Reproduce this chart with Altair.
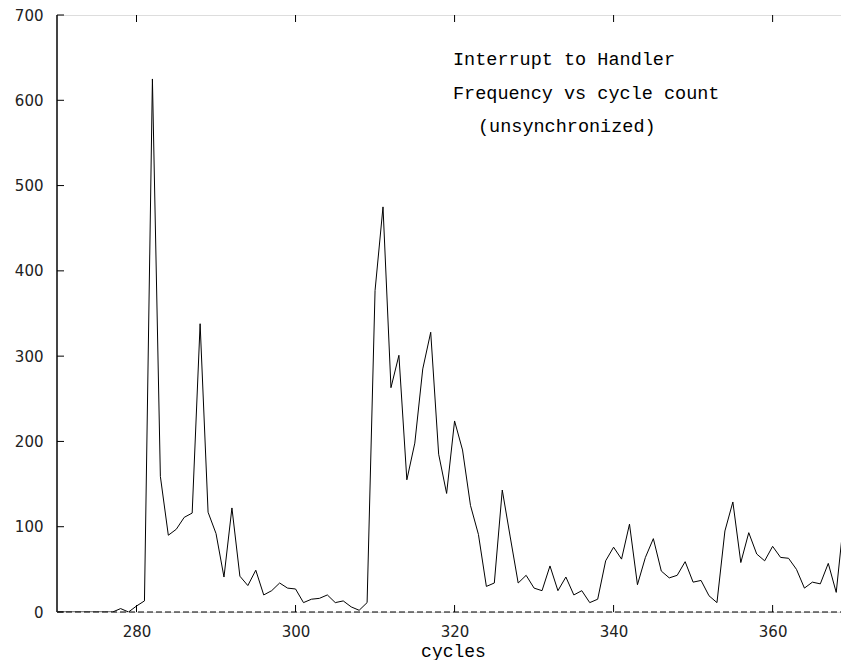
import altair as alt
import pandas as pd

cycles = list(range(270, 370))
counts = [0, 0, 0, 0, 0, 0, 0, 0, 4, 0,
          7, 13, 625, 159, 90, 97, 111, 116, 338, 117,
          92, 41, 122, 42, 31, 49, 20, 25, 34, 28,
          27, 11, 15, 16, 20, 11, 13, 6, 2, 11,
          377, 475, 263, 301, 155, 198, 285, 328, 185, 139,
          224, 190, 125, 91, 30, 34, 143, 88, 34, 43,
          28, 25, 54, 25, 41, 20, 25, 11, 15, 60,
          76, 62, 103, 32, 64, 86, 48, 40, 43, 59,
          35, 37, 19, 11, 95, 129, 58, 93, 68, 60,
          77, 64, 63, 50, 28, 35, 33, 57, 23, 113]
x_ticks = [280, 300, 320, 340, 360]
y_ticks = [0, 100, 200, 300, 400, 500, 600, 700]
notes = ["Interrupt to Handler", "Frequency vs cycle count", "(unsynchronized)"]

W, H = 784, 597
df = pd.DataFrame({"cycles": cycles, "count": counts})
xt = pd.DataFrame({"t": x_ticks})
yt = pd.DataFrame({"t": y_ticks})

xs = alt.Scale(domain=[270, 368.6], nice=False, zero=False)
ys = alt.Scale(domain=[0, 700], nice=False)

line = alt.Chart(df).mark_line(color="black", strokeWidth=1, clip=True).encode(
    x=alt.X("cycles:Q", scale=xs,
            axis=alt.Axis(values=x_ticks, ticks=False, domain=False, grid=False,
                          labelFont="DejaVu Sans", labelFontSize=15, labelColor="#222",
                          labelPadding=12, title="cycles", titleFont="Liberation Mono",
                          titleFontSize=18, titleFontWeight="normal", titleColor="black",
                          titleX=396, titleAnchor="middle", titlePadding=3)),
    y=alt.Y("count:Q", scale=ys,
            axis=alt.Axis(values=y_ticks, ticks=False, domain=False, grid=False,
                          labelFont="DejaVu Sans", labelFontSize=15, labelColor="#222",
                          labelPadding=14, title=None)),
)

zero = alt.Chart(pd.DataFrame({"z": [0]})).mark_rule(
    color="black", strokeWidth=1.2, strokeDash=[6, 3]
).encode(y=alt.Y("z:Q", scale=ys), x=alt.value(0), x2=alt.value(W))

left_border = alt.Chart(pd.DataFrame({"z": [0]})).mark_rule(
    color="#444", strokeWidth=2
).encode(x=alt.value(0), y=alt.value(0), y2=alt.value(H))

xtick_bot = alt.Chart(xt).mark_rule(color="black", strokeWidth=1).encode(
    x=alt.X("t:Q", scale=xs), y=alt.value(H), y2=alt.value(H - 7))
xtick_top = alt.Chart(xt).mark_rule(color="black", strokeWidth=1).encode(
    x=alt.X("t:Q", scale=xs), y=alt.value(0), y2=alt.value(7))
ytick = alt.Chart(yt).mark_rule(color="black", strokeWidth=1).encode(
    y=alt.Y("t:Q", scale=ys), x=alt.value(0), x2=alt.value(7))

ndf = pd.DataFrame({"text": notes, "px": [396, 396, 421], "py": [44, 78, 111]})
text = alt.Chart(ndf).mark_text(
    font="Liberation Mono", fontSize=18.5, align="left", baseline="middle", color="black"
).encode(text="text:N", x=alt.X("px:Q", scale=None), y=alt.Y("py:Q", scale=None))

chart = alt.layer(line, zero, left_border, xtick_bot, xtick_top, ytick, text).properties(
    width=W, height=H,
    autosize=alt.AutoSizeParams(type="none"),
    padding={"left": 57, "top": 15, "right": 0, "bottom": 48},
).configure_view(stroke="#444", strokeWidth=1.5).configure(background="white")

chart.save("out.html", embed_options={"renderer": "svg", "actions": False})
